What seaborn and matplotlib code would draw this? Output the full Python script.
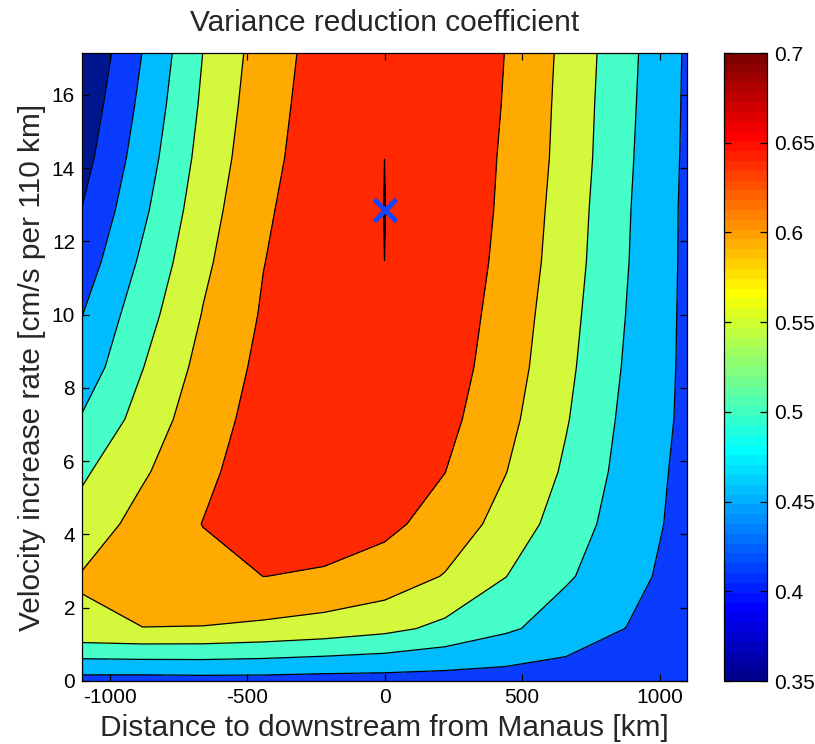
import numpy as np
import matplotlib
matplotlib.use("Agg")
import matplotlib.pyplot as plt
from matplotlib.colors import ListedColormap, Normalize
from matplotlib.cm import ScalarMappable
import seaborn as sns

# ---------------- data ----------------
distance_km = [-1100, -880, -660, -440, -220, 0, 220, 440, 660, 880, 1100]
velocity_rate = [0.0, 1.4286, 2.8571, 4.2857, 5.7143, 7.1429, 8.5714,
                 10.0, 11.4286, 12.8571, 14.2857, 15.7143, 17.1429]
# rows: velocity_rate, columns: distance_km
variance_reduction = [
    [0.431, 0.430, 0.432, 0.432, 0.429, 0.429, 0.428, 0.428, 0.425, 0.418, 0.405],
    [0.593, 0.5995, 0.598, 0.590, 0.579, 0.563, 0.538, 0.5075, 0.4786, 0.449, 0.412],
    [0.6035, 0.615, 0.635, 0.6502, 0.6465, 0.631, 0.597, 0.551, 0.505, 0.473, 0.419],
    [0.570, 0.618, 0.651, 0.665, 0.665, 0.660, 0.633, 0.580, 0.527, 0.474, 0.435],
    [0.542, 0.5936, 0.640, 0.674, 0.680, 0.675, 0.6505, 0.6015, 0.5423, 0.4818, 0.436],
    [0.504, 0.569, 0.630, 0.667, 0.683, 0.690, 0.664, 0.615, 0.5537, 0.4878, 0.4395],
    [0.470, 0.5485, 0.616, 0.662, 0.685, 0.695, 0.673, 0.625, 0.5616, 0.4941, 0.440],
    [0.449, 0.529, 0.6023, 0.655, 0.685, 0.698, 0.6785, 0.631, 0.5676, 0.4989, 0.440],
    [0.423, 0.509, 0.590, 0.649, 0.682, 0.69999, 0.682, 0.6377, 0.574, 0.5026, 0.4405],
    [0.401, 0.490, 0.5785, 0.643, 0.680, 0.7003, 0.683, 0.642, 0.578, 0.5047, 0.4406],
    [0.381, 0.475, 0.567, 0.636, 0.676, 0.69999, 0.680, 0.645, 0.583, 0.508, 0.442],
    [0.366, 0.4625, 0.558, 0.630, 0.674, 0.695, 0.676, 0.648, 0.585, 0.511, 0.443],
    [0.351, 0.451, 0.5505, 0.624, 0.671, 0.690, 0.675, 0.6495, 0.588, 0.514, 0.444],
]
contour_levels = [0.35, 0.40, 0.45, 0.50, 0.55, 0.60, 0.65, 0.70, 0.75]
colorbar_ticks = [0.35, 0.40, 0.45, 0.50, 0.55, 0.60, 0.65, 0.70]
colorbar_ticklabels = ["0.35", "0.4", "0.45", "0.5", "0.55", "0.6", "0.65", "0.7"]
x_ticks = [-1000, -500, 0, 500, 1000]
x_ticklabels = ["-1000", "-500", "0", "500", "1000"]
y_ticks = [0, 2, 4, 6, 8, 10, 12, 14, 16]
optimum_distance = [0]
optimum_rate = [12.8571]

title_text = "Variance reduction coefficient"
xlabel_text = "Distance to downstream from Manaus [km]"
ylabel_text = "Velocity increase rate [cm/s per 110 km]"

# band colours (one per filled interval, lower bound of each band)
band_colors = ["#00168f", "#0a3cff", "#00bcff", "#46ffc8",
               "#d4f93c", "#ffaa00", "#ff2800", "#800000"]

# ---------------- style ----------------
sns.set_style("white")
plt.rcParams["font.family"] = ["Liberation Sans", "DejaVu Sans"]
plt.rcParams["axes.unicode_minus"] = False
plt.rcParams["axes.axisbelow"] = False


def matlab_jet(m=64):
    n = int(np.ceil(m / 4))
    u = np.concatenate([np.arange(1, n + 1) / n, np.ones(n - 1), np.arange(n, 0, -1) / n])
    g = int(np.ceil(n / 2)) - (1 if m % 4 == 1 else 0) + np.arange(1, len(u) + 1)
    r = g + n
    b = g - n
    J = np.zeros((m, 3))
    for idx, val in zip(r, u):
        if 1 <= idx <= m:
            J[idx - 1, 0] = val
    for idx, val in zip(g, u):
        if 1 <= idx <= m:
            J[idx - 1, 1] = val
    for idx, val in zip(b, u):
        if 1 <= idx <= m:
            J[idx - 1, 2] = val
    return J


jet64 = matlab_jet(64)
cmin, cmax = 0.35, 0.70

X, Y = np.meshgrid(distance_km, velocity_rate)
Z = np.array(variance_reduction)

fig = plt.figure(figsize=(8.15, 7.44), dpi=100)
ax = fig.add_axes([82 / 815, 1 - 681 / 744, 605 / 815, 628 / 744])
ax.set_axisbelow(False)

ax.contourf(X, Y, Z, levels=contour_levels, colors=band_colors)
ax.contour(X, Y, Z, levels=contour_levels[:-1], colors="k", linewidths=0.9)

sns.scatterplot(x=optimum_distance, y=optimum_rate, marker="x", s=250,
                color="#1444ff", linewidth=3.5, ax=ax, zorder=5, legend=False)

ax.set_xlim(-1100, 1100)
ax.set_ylim(0, 17.1429)
ax.set_xticks(x_ticks)
ax.set_xticklabels(x_ticklabels)
ax.set_yticks(y_ticks)
ax.tick_params(direction="in", bottom=True, left=True, top=True, right=True,
               length=5, width=0.9, labelsize=15, pad=5, colors="black")
for sp in ax.spines.values():
    sp.set_visible(True)
    sp.set_linewidth(0.9)
    sp.set_color("black")
    sp.set_zorder(6)

ax.set_title(title_text, fontsize=21.5, pad=16)
ax.set_xlabel(xlabel_text, fontsize=21.5, labelpad=5)
ax.set_ylabel(ylabel_text, fontsize=21.5, labelpad=4)

cax = fig.add_axes([724 / 815, 1 - 681 / 744, 43 / 815, 628 / 744])
sm = ScalarMappable(norm=Normalize(cmin, cmax), cmap=ListedColormap(jet64))
cb = fig.colorbar(sm, cax=cax, ticks=colorbar_ticks)
cb.ax.set_axisbelow(False)
cb.ax.set_yticklabels(colorbar_ticklabels)
cb.ax.tick_params(axis="y", direction="in", left=True, right=True, length=5,
                  width=0.9, labelsize=15, pad=5, colors="black")
cb.outline.set_linewidth(0.9)
cb.outline.set_edgecolor("black")

fig.savefig("out.png", dpi=100)
